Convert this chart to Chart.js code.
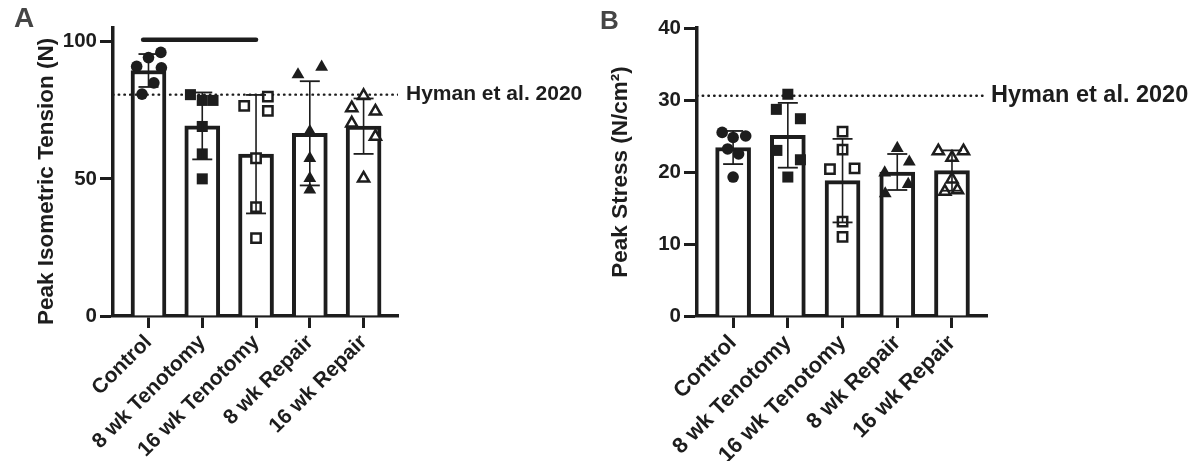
<!DOCTYPE html>
<html>
<head>
<meta charset="utf-8">
<script src="https://cdn.jsdelivr.net/npm/chart.js@4.4.1/dist/chart.umd.min.js"></script>
<style>
  body { margin: 0; background: #fff; width: 1194px; height: 461px; position: relative; overflow: hidden; font-family: "Liberation Sans", Arial, sans-serif; }
  .panel { position: absolute; top: 0; }
  .letter { position: absolute; font-weight: bold; color: #454545; line-height: 1; }
</style>
</head>
<body>
<div class="panel" style="left:0px"><canvas id="chartA" width="600" height="461"></canvas></div>
<div class="panel" style="left:580px"><canvas id="chartB" width="614" height="461"></canvas></div>
<div class="letter" style="left:14px;top:4px;font-size:28px">A</div>
<div class="letter" style="left:600px;top:7px;font-size:26px">B</div>
<script>
const categories = ['Control', '8 wk Tenotomy', '16 wk Tenotomy', '8 wk Repair', '16 wk Repair'];

// Panel A - peak isometric tension (N)
const tensionMeans = [89.5, 69.3, 59.0, 66.6, 69.2];
const tensionSD = [6.0, 12.2, 21.6, 19.0, 10.1];
const tensionPoints = [
    [96.1, 94.2, 91.0, 90.5, 85.0, 80.9],
    [80.7, 78.6, 78.6, 69.1, 59.1, 50.0],
    [76.6, 80.0, 74.8, 57.5, 39.7, 28.4],
    [88.0, 90.8, 67.3, 57.5, 50.2, 46.0],
    [80.3, 75.8, 74.6, 70.3, 65.4, 50.2]
];
const tensionJitter = [
    [0.23, 0, -0.22, 0.24, 0.1, -0.12],
    [-0.22, 0, 0.2, 0, 0, 0],
    [-0.22, 0.22, 0.22, 0, 0, 0],
    [-0.22, 0.22, 0, 0, 0, 0],
    [0, -0.22, 0.22, -0.22, 0.22, 0]
];
const tensionTicks = [0, 50, 100];
const hymanTension = 80.7;
const sigBar = { from: -0.1, to: 2, y: 100.7 };

// Panel B - peak stress (N/cm2)
const stressMeans = [23.4, 25.1, 18.8, 20.0, 20.2];
const stressSD = [2.3, 4.5, 5.8, 2.5, 2.8];
const stressPoints = [
    [25.5, 24.8, 25.0, 23.2, 22.5, 19.3],
    [30.8, 28.7, 27.4, 23.0, 21.7, 19.3],
    [25.6, 23.1, 20.4, 20.5, 13.1, 11.0],
    [23.3, 21.4, 19.9, 18.3, 17.0],
    [22.9, 22.9, 22.0, 19.0, 17.3, 17.5]
];
const stressJitter = [
    [-0.2, 0, 0.23, -0.1, 0.1, 0],
    [0, -0.21, 0.23, -0.2, 0.23, 0],
    [0, 0, -0.23, 0.22, 0, 0],
    [0, 0.22, -0.23, 0.2, -0.22],
    [-0.25, 0.21, 0, 0, -0.13, 0.1]
];
const stressTicks = [0, 10, 20, 30, 40];
const hymanStress = 30.6;

const ink = '#1d1d1d';
const FONT = '"Liberation Sans", Arial, sans-serif';
Chart.defaults.font.family = FONT;
Chart.defaults.font.weight = 'bold';
Chart.defaults.color = ink;

const markers = [
    { style: 'circle', radius: 5.8, filled: true },
    { style: 'rect', radius: 7.8, filled: true },
    { style: 'rect', radius: 6.6, filled: false },
    { style: 'triangle', radius: 7.4, filled: true },
    { style: 'triangle', radius: 6.4, filled: false }
];

const refLabel = {
    id: 'refLabel',
    afterDatasetsDraw(chart, args, opts) {
        const { ctx, chartArea, scales } = chart;
        const y = scales.y.getPixelForValue(opts.value);
        ctx.save();
        ctx.font = 'bold ' + opts.size + 'px ' + FONT;
        ctx.fillStyle = ink;
        ctx.textAlign = 'left';
        ctx.textBaseline = 'middle';
        ctx.fillText(opts.text, chartArea.right + opts.gap, y);
        ctx.restore();
    }
};

function makePanel(id, p) {
    const xMin = -0.66, xMax = 4.64;
    const datasets = [];

    datasets.push({
        type: 'bar',
        data: p.means.map((m, i) => ({ x: i, y: m })),
        backgroundColor: '#fff',
        borderColor: ink,
        borderWidth: 4,
        borderSkipped: 'start',
        barThickness: 35,
        order: 5
    });

    datasets.push({
        type: 'line',
        data: [{ x: xMin, y: p.hyman }, { x: xMax, y: p.hyman }],
        borderColor: ink,
        borderWidth: 2.4,
        borderDash: [0.5, 5.2],
        borderCapStyle: 'round',
        pointRadius: 0,
        order: 4
    });

    p.points.forEach((vals, i) => {
        const m = markers[i];
        datasets.push({
            type: 'scatter',
            data: vals.map((v, k) => ({ x: i + p.jitter[i][k], y: v })),
            pointStyle: m.style,
            pointRadius: m.radius,
            pointBackgroundColor: m.filled ? ink : '#fff',
            pointBorderColor: ink,
            pointBorderWidth: m.filled ? 0 : 2.5,
            order: 3
        });
    });

    if (p.sig) {
        datasets.push({
            type: 'line',
            data: [{ x: p.sig.from, y: p.sig.y }, { x: p.sig.to, y: p.sig.y }],
            borderColor: ink,
            borderWidth: 4.5,
            borderCapStyle: 'round',
            pointRadius: 0,
            order: 2
        });
    }

    // error bars: mean +/- SD with caps
    const err = [];
    p.means.forEach((m, i) => {
        err.push({ x: i, y: m - p.sd[i] }, { x: i, y: m + p.sd[i] }, { x: i + 0.5, y: null });
    });
    datasets.push({
        type: 'line',
        data: err,
        borderColor: ink,
        borderWidth: 1.6,
        pointStyle: 'line',
        pointRadius: 10,
        pointBorderWidth: 1.8,
        pointBorderColor: ink,
        spanGaps: false,
        order: 1
    });

    return new Chart(document.getElementById(id), {
        type: 'bar',
        data: { datasets },
        options: {
            responsive: false,
            animation: false,
            devicePixelRatio: 1,
            layout: { padding: { left: 0, right: p.padRight, top: 28, bottom: 0 } },
            plugins: {
                legend: { display: false },
                tooltip: { enabled: false },
                refLabel: { text: 'Hyman et al. 2020', value: p.hyman, size: p.labelSize, gap: p.labelGap }
            },
            scales: {
                x: {
                    type: 'linear',
                    min: xMin,
                    max: xMax,
                    offset: false,
                    afterBuildTicks: s => { s.ticks = categories.map((c, i) => ({ value: i })); },
                    afterFit: s => { s.height = 145; },
                    ticks: {
                        callback: v => categories[v],
                        minRotation: 45,
                        maxRotation: 45,
                        autoSkip: false,
                        padding: 2,
                        color: ink,
                        font: { size: p.xFont, weight: 'bold' }
                    },
                    grid: { offset: false, drawOnChartArea: false, tickLength: 12, tickWidth: 3, tickColor: ink },
                    border: { color: ink, width: 3.5 }
                },
                y: {
                    min: 0,
                    max: p.yMax,
                    afterBuildTicks: s => { s.ticks = p.ticks.map(v => ({ value: v })); },
                    afterFit: s => { s.width = p.axisWidth; },
                    ticks: { padding: 3, color: ink, font: { size: 20.5, weight: 'bold' } },
                    grid: { drawOnChartArea: false, tickLength: 13, tickWidth: 3, tickColor: ink },
                    border: { color: ink, width: 3.5 },
                    title: {
                        display: true,
                        text: p.title,
                        color: ink,
                        font: { size: 22.5, weight: 'bold' },
                        padding: { top: p.titlePad, bottom: 0 }
                    }
                }
            }
        },
        plugins: [refLabel]
    });
}

makePanel('chartA', {
    means: tensionMeans, sd: tensionSD, points: tensionPoints, jitter: tensionJitter,
    ticks: tensionTicks, yMax: 105, hyman: hymanTension, sig: sigBar,
    title: 'Peak Isometric Tension (N)   ',
    axisWidth: 113, padRight: 202, titlePad: 33.5, labelSize: 21, labelGap: 8, xFont: 21
});

makePanel('chartB', {
    means: stressMeans, sd: stressSD, points: stressPoints, jitter: stressJitter,
    ticks: stressTicks, yMax: 40, hyman: hymanStress, sig: null,
    title: 'Peak Stress (N/cm²)',
    axisWidth: 117, padRight: 207, titlePad: 27.5, labelSize: 23.5, labelGap: 4, xFont: 22
});
</script>
</body>
</html>
